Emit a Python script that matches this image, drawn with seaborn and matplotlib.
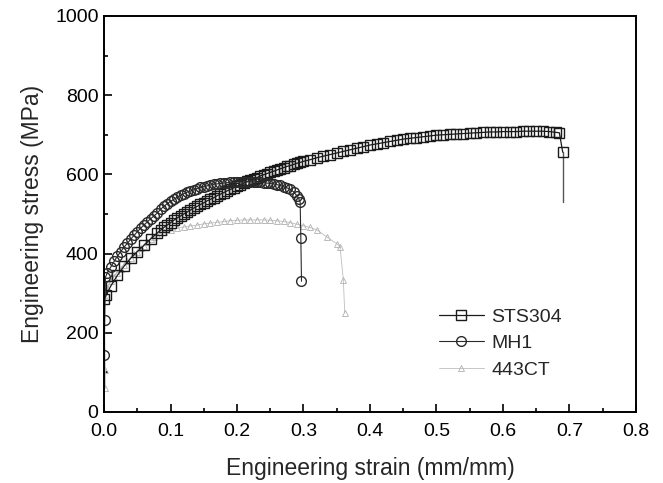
import numpy as np
import matplotlib
matplotlib.use("Agg")
import matplotlib.pyplot as plt
import seaborn as sns

# ---------- data (strain mm/mm, stress MPa) ----------
sts_strain = [0.000, 0.003, 0.010, 0.020, 0.030, 0.040, 0.050, 0.060, 0.070,
              0.080, 0.085, 0.090, 0.095, 0.100, 0.105, 0.110, 0.115, 0.120,
              0.125, 0.130, 0.135, 0.140, 0.145, 0.150, 0.155, 0.160, 0.165,
              0.170, 0.175, 0.180, 0.185, 0.190, 0.195, 0.200, 0.205, 0.210,
              0.215, 0.220, 0.225, 0.230, 0.235, 0.240, 0.245, 0.250, 0.255,
              0.260, 0.265, 0.270, 0.275, 0.280, 0.285, 0.290, 0.295, 0.300,
              0.31, 0.32, 0.33, 0.34, 0.35, 0.36, 0.37, 0.38, 0.39, 0.40,
              0.41, 0.42, 0.43, 0.44, 0.45, 0.46, 0.47, 0.48, 0.49, 0.50,
              0.51, 0.52, 0.53, 0.54, 0.55, 0.56, 0.57, 0.58, 0.59, 0.60,
              0.61, 0.62, 0.63, 0.64, 0.65, 0.66, 0.67, 0.68, 0.685, 0.69]
sts_stress = [285, 295, 318, 345, 368, 388, 405, 421, 437,
              452, 459, 466, 472, 478, 484, 490, 495, 500,
              505, 510, 515, 519, 524, 528, 533, 537, 541,
              546, 550, 554, 558, 562, 566, 570, 574, 578,
              582, 585, 589, 592, 596, 599, 602, 605, 608,
              611, 614, 617, 620, 622, 625, 628, 630, 633,
              637, 642, 646, 650, 654, 658, 662, 666, 670, 674,
              677, 680, 683, 686, 689, 691, 693, 695, 697, 699,
              700, 701, 702, 703, 704, 705, 706, 707, 707, 708,
              708, 708, 709, 709, 709, 709, 708, 706, 705, 656]
sts_tail_strain = [0.69, 0.69]
sts_tail_stress = [656, 530]

mh1_strain = [0.000, 0.001, 0.002, 0.005, 0.010, 0.015, 0.020, 0.025, 0.030,
              0.035, 0.040, 0.045, 0.050, 0.055, 0.060, 0.065, 0.070, 0.075,
              0.080, 0.085, 0.090, 0.095, 0.100, 0.105, 0.110, 0.115, 0.120,
              0.125, 0.130, 0.135, 0.140, 0.145, 0.150, 0.155, 0.160, 0.165,
              0.170, 0.175, 0.180, 0.185, 0.190, 0.195, 0.200, 0.205, 0.210,
              0.215, 0.220, 0.225, 0.230, 0.235, 0.240, 0.245, 0.250, 0.255,
              0.260, 0.265, 0.270, 0.275, 0.280, 0.285, 0.290, 0.293, 0.295,
              0.296, 0.297]
mh1_stress = [145, 232, 340, 352, 366, 380, 393, 405, 416,
              426, 436, 446, 455, 464, 472, 480, 488, 495,
              502, 512, 519, 526, 532, 537, 542, 547, 551,
              555, 558, 561, 564, 567, 569, 571, 573, 575,
              576, 577, 578, 579, 580, 580, 581, 581, 581,
              581, 581, 581, 580, 580, 579, 578, 577, 576,
              574, 572, 569, 566, 562, 556, 546, 538, 530,
              440, 330]

ct_strain = [0.002, 0.002, 0.000, 0.005, 0.010, 0.015, 0.020, 0.025, 0.030,
             0.035, 0.040, 0.045, 0.050, 0.055, 0.060, 0.065, 0.070, 0.075,
             0.080, 0.09, 0.10, 0.11, 0.12, 0.13, 0.14, 0.15, 0.16, 0.17,
             0.18, 0.19, 0.20, 0.21, 0.22, 0.23, 0.24, 0.25, 0.26, 0.27,
             0.28, 0.29, 0.30, 0.31, 0.32, 0.335, 0.35, 0.355, 0.36, 0.362]
ct_stress = [60, 105, 295, 312, 330, 342, 352, 362, 372,
             381, 390, 398, 405, 413, 420, 429, 438, 443,
             448, 455, 460, 464, 467, 470, 472, 475, 477, 479,
             481, 483, 484, 485, 485, 485, 485, 484, 483, 481,
             478, 474, 470, 466, 460, 442, 425, 417, 333, 250]

series_names = ["STS304", "MH1", "443CT"]

sns.set_style("ticks")
plt.rcParams["font.family"] = ["Liberation Sans", "DejaVu Sans"]

fig = plt.figure(figsize=(6.63, 4.83), dpi=100)
ax = fig.add_axes([0.157, 0.147, 0.802, 0.820])

# 443CT first so the darker bands sit on top
sns.lineplot(x=ct_strain, y=ct_stress, ax=ax, sort=False, estimator=None,
             color="#bdbdbd", lw=0.6, marker="^", markersize=4.5,
             markerfacecolor="none", markeredgecolor="#b0b0b0",
             markeredgewidth=0.6, label=series_names[2])
sns.lineplot(x=sts_tail_strain, y=sts_tail_stress, ax=ax, sort=False,
             estimator=None, color="#555555", lw=1.0)
sns.lineplot(x=sts_strain, y=sts_stress, ax=ax, sort=False, estimator=None,
             color="#1a1a1a", lw=0.9, marker="s", markersize=7,
             markerfacecolor="none", markeredgecolor="#1a1a1a",
             markeredgewidth=1.0, label=series_names[0])
sns.lineplot(x=mh1_strain, y=mh1_stress, ax=ax, sort=False, estimator=None,
             color="#2a2a2a", lw=0.8, marker="o", markersize=7,
             markerfacecolor="none", markeredgecolor="#2a2a2a",
             markeredgewidth=1.0, label=series_names[1])

ax.set_xlim(0, 0.8)
ax.set_ylim(0, 1000)
ax.set_xticks(np.arange(0, 0.81, 0.1))
ax.set_yticks(np.arange(0, 1001, 200))
ax.set_xticks(np.arange(0.05, 0.8, 0.1), minor=True)
ax.set_yticks(np.arange(100, 1000, 200), minor=True)
ax.xaxis.set_major_formatter(matplotlib.ticker.FormatStrFormatter("%.1f"))
ax.tick_params(direction="in", which="both", labelsize=14, width=1.2,
               colors="black")
ax.tick_params(axis="x", which="major", length=6, pad=8)
ax.tick_params(axis="y", which="major", length=6, pad=4)
ax.tick_params(which="minor", length=3)
for s in ax.spines.values():
    s.set_linewidth(1.4)
    s.set_color("black")
    s.set_visible(True)

ax.set_xlabel("Engineering strain (mm/mm)", fontsize=16.5, labelpad=12)
ax.set_ylabel("Engineering stress (MPa)", fontsize=16.5, labelpad=8)

h, l = ax.get_legend_handles_labels()
order = [l.index(n) for n in series_names]
ax.legend([h[i] for i in order], [l[i] for i in order],
          loc="upper left", bbox_to_anchor=(0.63, 0.262), frameon=False,
          fontsize=14, handlelength=2.3, handletextpad=0.4,
          labelspacing=0.45, borderpad=0, borderaxespad=0)

fig.savefig("out.png", dpi=100)
